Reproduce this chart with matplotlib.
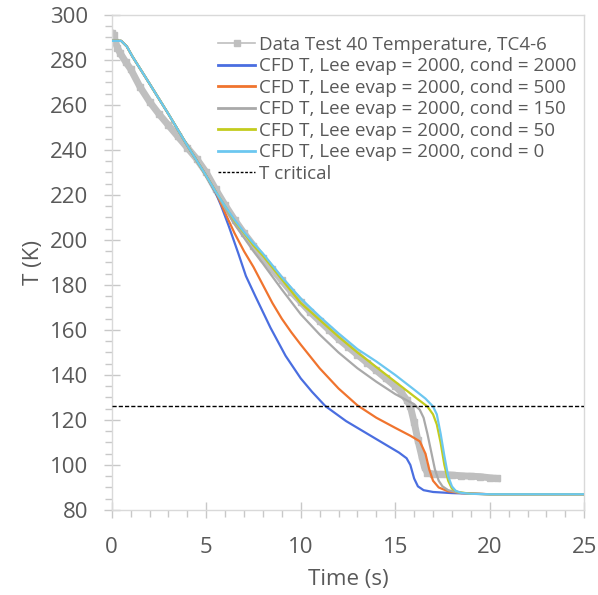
import matplotlib
matplotlib.use("Agg")
import matplotlib.pyplot as plt
from matplotlib.lines import Line2D
from matplotlib.ticker import MultipleLocator

plt.rcParams['font.family'] = ['Open Sans', 'DejaVu Sans']

# ---- data ----
data_t = [0, 0.1, 0.2, 0.3, 0.45, 0.75, 1, 1.5, 2, 2.5, 3, 3.5, 4, 4.5, 5, 5.5, 6, 6.5, 7, 7.5,
          8, 8.5, 9, 9.5, 10, 10.5, 11, 11.5, 12, 12.5, 13, 13.5, 14, 14.5, 15, 15.3, 15.6, 15.8,
          16.0, 16.2, 16.4, 16.55, 16.7, 17, 17.5, 18, 18.5, 19, 19.5, 20, 20.4]
data_T = [292, 291, 288, 285.5, 283, 279, 276, 268, 261.5, 256, 251, 246, 241, 236, 230,
          222.5, 215.5, 209, 203, 197.5, 192, 187, 182, 177, 172.5, 168, 164, 160, 156, 152.5,
          149, 145.5, 142, 138.5, 135, 132.5, 129, 126, 119, 111, 104, 99, 96.5, 96, 95.8, 95.5,
          95.2, 95, 94.8, 94.3, 94]

c2000_t = [0, 0.5, 0.8, 1.1, 2, 3, 4, 5, 5.5, 5.8, 6.2, 6.7, 7.1, 7.6, 8.0, 8.4, 9.2, 10, 10.6,
           11.3, 12.4, 13.5, 14.4, 15.2, 15.6, 15.8, 16.0, 16.2, 16.5, 17, 18, 20, 25]
c2000_T = [288.5, 288.5, 286, 281.5, 269.5, 256, 242, 228.5, 221, 215, 206, 194, 184, 175, 168,
           161, 148.5, 138.5, 132.5, 126.2, 119.5, 114, 109.5, 105.5, 103, 100, 94, 90.5, 88.8,
           88, 87.5, 87, 87]

c500_t = [0, 0.5, 0.8, 1.1, 2, 3, 4, 5, 5.5, 6, 6.5, 7, 7.5, 8, 8.5, 9, 9.5, 10, 11, 12, 13, 14,
          15, 15.8, 16.3, 16.6, 16.8, 17.0, 17.3, 17.8, 18.5, 20, 25]
c500_T = [288.5, 288.5, 286, 281.5, 269.5, 256, 242, 228.5, 221.5, 212, 203, 195, 188, 180, 172,
          165, 159, 153.5, 143, 134, 126.5, 121, 116.5, 113, 110.5, 105, 98, 93, 90, 88.3, 87.5,
          87, 87]

c150_t = [0, 0.5, 0.8, 1.1, 2, 3, 4, 5, 5.5, 6, 6.5, 7, 7.5, 8, 9, 10, 11, 12, 13, 14, 15, 16,
          16.3, 16.5, 16.7, 16.9, 17.1, 17.3, 17.5, 17.8, 18.3, 19, 20, 25]
c150_T = [288.5, 288.5, 286, 281.5, 269.5, 256, 242, 228.5, 221.5, 214, 207, 201, 195, 189.5,
          178, 167, 158, 150, 143, 137, 131.5, 127, 124.5, 121, 114, 106, 98, 93, 90.5, 88.8,
          87.8, 87.2, 87, 87]

c50_t = [0, 0.5, 0.8, 1.1, 2, 3, 4, 5, 5.5, 6, 6.5, 7, 7.5, 8, 9, 10, 11, 12, 13, 14, 15, 16,
         16.7, 17.0, 17.2, 17.4, 17.6, 17.8, 18.0, 18.3, 19, 20, 25]
c50_T = [288.5, 288.5, 286, 281.5, 269.5, 256, 242, 228.5, 221.5, 215, 208.5, 203, 197.5, 193,
         182.5, 172, 164.5, 157, 150, 143.5, 137, 130.5, 126, 122.5, 118, 110, 100, 93, 89.5, 88,
         87.2, 87, 87]

c0_t = [0, 0.5, 0.8, 1.1, 2, 3, 4, 5, 5.5, 6, 6.5, 7, 7.5, 8, 9, 10, 11, 12, 13, 14, 15, 16,
        16.6, 17.0, 17.2, 17.4, 17.6, 17.8, 18.0, 18.2, 18.5, 19, 20, 22, 25]
c0_T = [288.5, 288.5, 286, 281.5, 269.5, 256, 242, 228.5, 221.5, 215, 209, 203.5, 198.5, 194,
        183.5, 174, 166, 158.5, 151.5, 146, 140, 133.5, 129.5, 126, 122.5, 114, 104, 95, 90.5,
        88.5, 87.6, 87.2, 87, 87, 87]

T_critical = 126.2

labels = ["Data Test 40 Temperature, TC4-6",
          "CFD T, Lee evap = 2000, cond = 2000",
          "CFD T, Lee evap = 2000, cond = 500",
          "CFD T, Lee evap = 2000, cond = 150",
          "CFD T, Lee evap = 2000, cond = 50",
          "CFD T, Lee evap = 2000, cond = 0",
          "T critical"]
colors = ["#bfbfbf", "#4a6ee0", "#f0742e", "#a9a9a9", "#c3cc1e", "#6cc7f0", "#000000"]

# ---- figure ----
fig = plt.figure(figsize=(5.98, 5.95), dpi=100)
ax = fig.add_axes([0.1868, 0.1429, 0.7902, 0.8319])

ax.plot(data_t, data_T, color=colors[0], lw=5, marker='s', ms=5, zorder=2)
series = [(c2000_t, c2000_T), (c500_t, c500_T), (c150_t, c150_T), (c50_t, c50_T), (c0_t, c0_T)]
for (t, T), c in zip(series, colors[1:6]):
    ax.plot(t, T, color=c, lw=1.6, zorder=3)
ax.axhline(T_critical, color='black', lw=1.0, ls=(0, (3, 1.5)), zorder=4)

ax.set_xlim(0, 25)
ax.set_ylim(80, 300)
ax.xaxis.set_major_locator(MultipleLocator(5))
ax.xaxis.set_minor_locator(MultipleLocator(1))
ax.yaxis.set_major_locator(MultipleLocator(20))
ax.yaxis.set_minor_locator(MultipleLocator(5))

txt = '#595959'
for s in ax.spines.values():
    s.set_color('#d9d9d9')
    s.set_linewidth(1.0)
ax.tick_params(which='major', direction='inout', length=11, width=1, color='#c8c8c8',
               labelsize=16, labelcolor=txt)
ax.tick_params(which='minor', direction='out', length=5, width=1, color='#c8c8c8')
ax.tick_params(axis='x', which='major', pad=14)
ax.tick_params(axis='y', which='major', pad=11.5)

ax.set_xlabel("Time (s)", fontsize=16, color=txt, labelpad=8)
ax.set_ylabel("T (K)", fontsize=16, color=txt, labelpad=4)

handles = [Line2D([], [], color=colors[0], lw=1.2, marker='s', ms=4)]
handles += [Line2D([], [], color=c, lw=2) for c in colors[1:6]]
handles += [Line2D([], [], color='black', lw=1.0, ls=(0, (2, 1.2)))]
leg = ax.legend(handles, labels, loc='upper left', bbox_to_anchor=(0.2249, 0.958),
                frameon=False, fontsize=13.5, handlelength=2.0, handletextpad=0.2,
                labelspacing=0.185, borderpad=0, borderaxespad=0)
for tx in leg.get_texts():
    tx.set_color(txt)

fig.savefig("out.png", dpi=100)
